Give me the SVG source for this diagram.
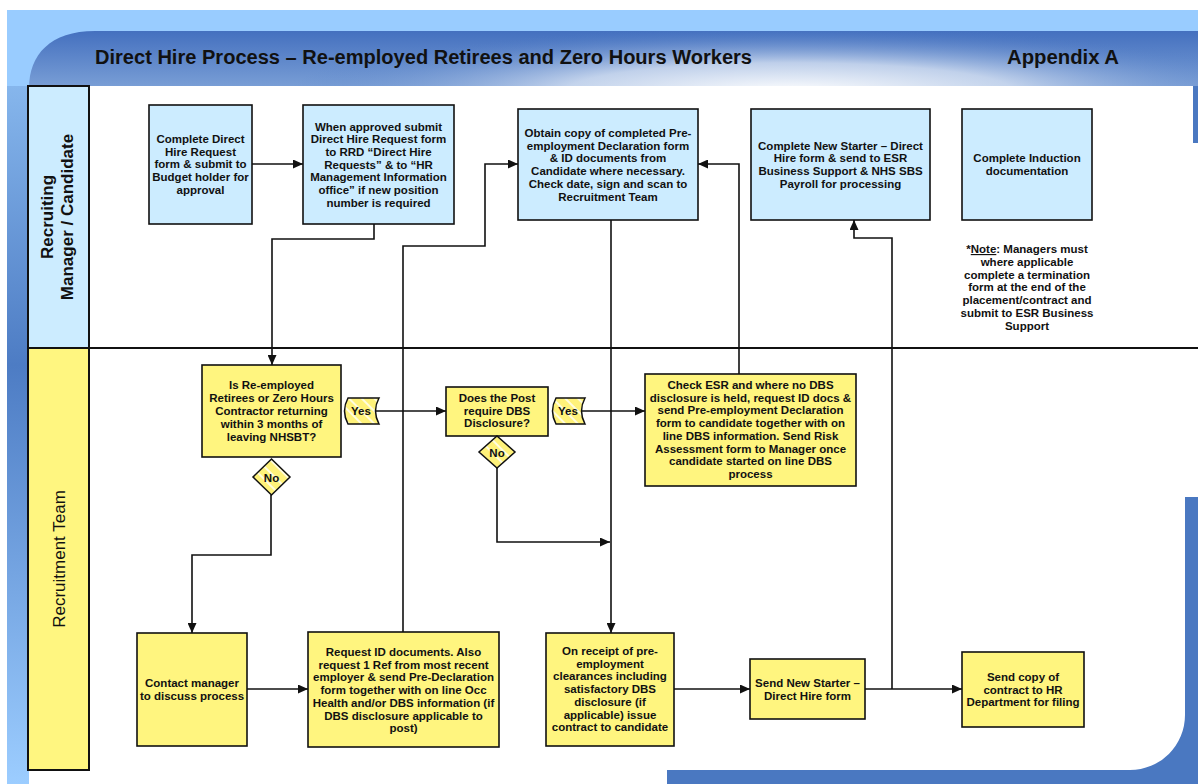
<svg xmlns="http://www.w3.org/2000/svg" width="1198" height="784" viewBox="0 0 1198 784">
  <defs>
    <style>
      .t { font-family: "Liberation Sans", Arial, sans-serif; font-size: 11.5px; font-weight: bold; fill: #111; text-anchor: middle; }
      .lane { font-family: "Liberation Sans", Arial, sans-serif; font-size: 17px; fill: #111; text-anchor: middle; }
      .title { font-family: "Liberation Sans", Arial, sans-serif; font-size: 19.5px; font-weight: bold; fill: #111; }
      .blue { fill: #CCECFF; stroke: #111; stroke-width: 1.6; }
      .yel { fill: #FFF57F; stroke: #111; stroke-width: 1.6; }
      .tag { fill: url(#stripes); stroke: #111; stroke-width: 1.5; }
      .conn path { fill: none; stroke: #111; stroke-width: 1.6; marker-end: url(#arrow); }
    </style>
    <marker id="arrow" markerUnits="userSpaceOnUse" markerWidth="11" markerHeight="9" refX="10" refY="4.5" orient="auto">
      <path d="M0,0 L10,4.5 L0,9 Z" fill="#111"/>
    </marker>
    <pattern id="stripes" patternUnits="userSpaceOnUse" width="9" height="9" patternTransform="rotate(-45)">
      <rect width="9" height="9" fill="#FFF27A"/>
      <rect x="0" y="0" width="2" height="9" fill="#FFFFFF" opacity="0.75"/>
    </pattern>
    <linearGradient id="hdrBase" x1="0" y1="0" x2="0" y2="1">
      <stop offset="0" stop-color="#4470BF"/>
      <stop offset="1" stop-color="#7A9FD6"/>
    </linearGradient>
    <radialGradient id="hdrGlow" gradientUnits="userSpaceOnUse" cx="790" cy="92" r="500" gradientTransform="translate(790,92) scale(1,0.13) translate(-790,-92)">
      <stop offset="0" stop-color="#FFFFFF" stop-opacity="1"/>
      <stop offset="0.45" stop-color="#DDE6F4" stop-opacity="0.75"/>
      <stop offset="1" stop-color="#4A78C4" stop-opacity="0"/>
    </radialGradient>
    <linearGradient id="sideBar" x1="0" y1="0" x2="0" y2="1">
      <stop offset="0" stop-color="#86B6EC"/>
      <stop offset="0.4" stop-color="#4D7CC4"/>
      <stop offset="1" stop-color="#9CCDFF"/>
    </linearGradient>
  </defs>

  <!-- page frame -->
  <rect x="0" y="0" width="1198" height="784" fill="#FFFFFF"/>
  <rect x="7" y="10" width="1191" height="80" fill="#99CCFF"/>
  <path d="M29,88 C29,55 50,31 95,31 H1198 V88 Z" fill="url(#hdrBase)"/>
  <path d="M29,88 C29,55 50,31 95,31 H1198 V88 Z" fill="url(#hdrGlow)"/>
  <rect x="7" y="86" width="22" height="698" fill="url(#sideBar)"/>
  <rect x="29" y="86" width="1164" height="698" fill="#FFFFFF"/>
  <rect x="1193" y="86" width="5" height="57" fill="#4A78C1"/>
  <path d="M1185,497 H1198 V784 H667 V770 H1130 A55,55 0 0 0 1185,715 Z" fill="#4A78C1"/>

  <text class="title" x="95" y="64" textLength="657" lengthAdjust="spacingAndGlyphs">Direct Hire Process – Re-employed Retirees and Zero Hours Workers</text>
  <text class="title" x="1007" y="64" textLength="112" lengthAdjust="spacingAndGlyphs">Appendix A</text>

  <!-- swimlanes -->
  <g id="lane-manager">
    <rect x="28" y="86" width="61" height="262" fill="#CCECFF" stroke="#111" stroke-width="2"/>
    <text class="lane" font-weight="bold" font-size="16" transform="translate(53,217) rotate(-90)">Recruiting</text>
    <text class="lane" font-weight="bold" font-size="16" transform="translate(73,217) rotate(-90)">Manager / Candidate</text>
  </g>
  <g id="lane-recruitment">
    <rect x="28" y="348" width="61" height="422" fill="#FFF680" stroke="#111" stroke-width="2"/>
    <text class="lane" transform="translate(65,559) rotate(-90)">Recruitment Team</text>
  </g>
  <line x1="89" y1="348" x2="1198" y2="348" stroke="#111" stroke-width="1.8"/>

  <!-- connectors -->
  <g id="connectors" class="conn">
    <path d="M252,164 H303"/>
    <path d="M374,224 V239 H272 V365"/>
    <path d="M403,632 V246 H485 V164 H518"/>
    <path d="M611,220 V633"/>
    <path d="M497,468 V542 H610"/>
    <path d="M739,374 V164 H698"/>
    <path d="M892,689 V238 H854 V220"/>
    <path d="M375,411 H446"/>
    <path d="M580,411 H645"/>
    <path d="M271,495 V555 H192 V633"/>
    <path d="M247,689 H308"/>
    <path d="M674,689 H750"/>
    <path d="M865,689 H962"/>
  </g>

  <!-- Recruiting Manager / Candidate lane -->
  <g id="complete-request">
    <rect class="blue" x="149" y="105" width="103" height="119"/>
    <text class="t" x="200.5" y="143">Complete Direct<tspan x="200.5" dy="12.7">Hire Request</tspan><tspan x="200.5" dy="12.7">form &amp; submit to</tspan><tspan x="200.5" dy="12.7">Budget holder for</tspan><tspan x="200.5" dy="12.7">approval</tspan></text>
  </g>
  <g id="submit-request">
    <rect class="blue" x="303" y="105" width="151" height="119"/>
    <text class="t" x="378.5" y="130.5">When approved submit<tspan x="378.5" dy="12.7">Direct Hire Request form</tspan><tspan x="378.5" dy="12.7">to RRD “Direct Hire</tspan><tspan x="378.5" dy="12.7">Requests” &amp; to “HR</tspan><tspan x="378.5" dy="12.7">Management Information</tspan><tspan x="378.5" dy="12.7">office” if new position</tspan><tspan x="378.5" dy="12.7">number is required</tspan></text>
  </g>
  <g id="obtain-declaration">
    <rect class="blue" x="518" y="109" width="180" height="111"/>
    <text class="t" x="608" y="137">Obtain copy of completed Pre-<tspan x="608" dy="12.7">employment Declaration form</tspan><tspan x="608" dy="12.7">&amp; ID documents from</tspan><tspan x="608" dy="12.7">Candidate where necessary.</tspan><tspan x="608" dy="12.7">Check date, sign and scan to</tspan><tspan x="608" dy="12.7">Recruitment Team</tspan></text>
  </g>
  <g id="new-starter-form">
    <rect class="blue" x="751" y="109" width="179" height="111"/>
    <text class="t" x="840.5" y="149.5">Complete New Starter – Direct<tspan x="840.5" dy="12.7">Hire form &amp; send to ESR</tspan><tspan x="840.5" dy="12.7">Business Support &amp; NHS SBS</tspan><tspan x="840.5" dy="12.7">Payroll for processing</tspan></text>
  </g>
  <g id="induction">
    <rect class="blue" x="962" y="109" width="130" height="111"/>
    <text class="t" x="1027" y="162">Complete Induction<tspan x="1027" dy="12.7">documentation</tspan></text>
  </g>
  <g id="note">
    <text class="t" x="1027" y="253">*<tspan text-decoration="underline">Note</tspan>: Managers must<tspan x="1027" dy="12.8">where applicable</tspan><tspan x="1027" dy="12.8">complete a termination</tspan><tspan x="1027" dy="12.8">form at the end of the</tspan><tspan x="1027" dy="12.8">placement/contract and</tspan><tspan x="1027" dy="12.8">submit to ESR Business</tspan><tspan x="1027" dy="12.8">Support</tspan></text>
  </g>

  <!-- Recruitment Team lane -->
  <g id="returning-check">
    <rect class="yel" x="202" y="365" width="139" height="92"/>
    <text class="t" x="271.5" y="389">Is Re-employed<tspan x="271.5" dy="12.9">Retirees or Zero Hours</tspan><tspan x="271.5" dy="12.9">Contractor returning</tspan><tspan x="271.5" dy="12.9">within 3 months of</tspan><tspan x="271.5" dy="12.9">leaving NHSBT?</tspan></text>
  </g>
  <g id="yes-1">
    <path class="tag" d="M348,398 H379 Q372,411 379,424 H348 Q341,411 348,398 Z"/>
    <text class="t" x="361" y="415">Yes</text>
  </g>
  <g id="no-1">
    <path class="tag" d="M271.5,459 L290,477 L271.5,495 L253,477 Z"/>
    <text class="t" x="271.5" y="481.5">No</text>
  </g>
  <g id="dbs-check">
    <rect class="yel" x="446" y="387" width="102" height="49"/>
    <text class="t" x="497" y="402">Does the Post<tspan x="497" dy="12.7">require DBS</tspan><tspan x="497" dy="12.7">Disclosure?</tspan></text>
  </g>
  <g id="yes-2">
    <path class="tag" d="M556,398 H585 Q578,411 585,424 H556 Q549,411 556,398 Z"/>
    <text class="t" x="568" y="415">Yes</text>
  </g>
  <g id="no-2">
    <path class="tag" d="M497,436 L515,452 L497,468 L479,452 Z"/>
    <text class="t" x="497" y="456.5">No</text>
  </g>
  <g id="check-esr">
    <rect class="yel" x="645" y="374" width="211" height="112"/>
    <text class="t" x="750.5" y="389">Check ESR and where no DBS<tspan x="750.5" dy="12.7">disclosure is held, request ID docs &amp;</tspan><tspan x="750.5" dy="12.7">send Pre-employment Declaration</tspan><tspan x="750.5" dy="12.7">form to candidate together with on</tspan><tspan x="750.5" dy="12.7">line DBS information.  Send Risk</tspan><tspan x="750.5" dy="12.7">Assessment form to Manager once</tspan><tspan x="750.5" dy="12.7">candidate started on line DBS</tspan><tspan x="750.5" dy="12.7">process</tspan></text>
  </g>
  <g id="contact-manager">
    <rect class="yel" x="137" y="633" width="110" height="113"/>
    <text class="t" x="192" y="687">Contact manager<tspan x="192" dy="12.7">to discuss process</tspan></text>
  </g>
  <g id="request-id">
    <rect class="yel" x="308" y="632" width="191" height="115"/>
    <text class="t" x="403.5" y="656">Request ID documents.  Also<tspan x="403.5" dy="12.7">request 1 Ref from most recent</tspan><tspan x="403.5" dy="12.7">employer &amp; send Pre-Declaration</tspan><tspan x="403.5" dy="12.7">form together with on line Occ</tspan><tspan x="403.5" dy="12.7">Health and/or DBS information (if</tspan><tspan x="403.5" dy="12.7">DBS disclosure applicable to</tspan><tspan x="403.5" dy="12.7">post)</tspan></text>
  </g>
  <g id="issue-contract">
    <rect class="yel" x="546" y="633" width="128" height="113"/>
    <text class="t" x="610" y="655">On receipt of pre-<tspan x="610" dy="12.7">employment</tspan><tspan x="610" dy="12.7">clearances including</tspan><tspan x="610" dy="12.7">satisfactory DBS</tspan><tspan x="610" dy="12.7">disclosure (if</tspan><tspan x="610" dy="12.7">applicable) issue</tspan><tspan x="610" dy="12.7">contract to candidate</tspan></text>
  </g>
  <g id="send-new-starter">
    <rect class="yel" x="750" y="659" width="115" height="60"/>
    <text class="t" x="807.5" y="687">Send New Starter –<tspan x="807.5" dy="12.7">Direct Hire form</tspan></text>
  </g>
  <g id="copy-to-hr">
    <rect class="yel" x="962" y="652" width="122" height="75"/>
    <text class="t" x="1023" y="681">Send copy of<tspan x="1023" dy="12.7">contract to HR</tspan><tspan x="1023" dy="12.7">Department for filing</tspan></text>
  </g>
</svg>
